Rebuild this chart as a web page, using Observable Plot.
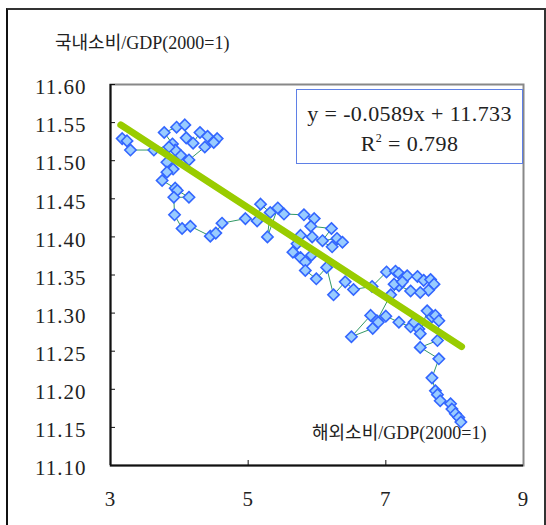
<!DOCTYPE html>
<html>
<head>
<meta charset="utf-8">
<script src="https://cdn.jsdelivr.net/npm/d3@7"></script>
<script src="https://cdn.jsdelivr.net/npm/@observablehq/plot@0.6"></script>
<style>
  body { margin: 0; background: #fff; }
  #wrap { position: relative; width: 546px; height: 525px; overflow: hidden;
          font-family: "Liberation Serif", "Noto Sans CJK KR", serif; color: #222; }
  #outer { position: absolute; left: 6px; top: 8px; width: 536px; height: 540px;
           border-left: 2px solid #111; border-top: 2px solid #333; border-right: 2px solid #333; }
  .lbl { position: absolute; white-space: nowrap; }
  #chart { position: absolute; left: 0; top: 0; }
  #chart svg text { font-family: "Liberation Serif", "Noto Sans CJK KR", serif !important; letter-spacing: 1px; fill: #222; }
  #eq { position: absolute; left: 296px; top: 89px; width: 227px; height: 75px; box-sizing: border-box;
        border: 1px solid #5f80e6; background: #fff; }
  #eq div { position: absolute; left: 0; width: 100%; text-align: center; font-size: 22px; line-height: 24px; letter-spacing: 0.4px; }
</style>
</head>
<body>
<div id="wrap">
  <div id="outer"></div>
  <div class="lbl" id="ytitle" style="left:55px; top:33px; font-size:18px; line-height:20px;"></div>
  <div class="lbl" id="xtitle" style="left:312px; top:423px; font-size:18px; line-height:20px;"></div>
  <div id="chart"></div>
  <div id="eq"><div id="eq1" style="top:12px;"></div><div id="eq2" style="top:42px;"></div></div>
</div>
<script>
// ---- Data (foreign consumption / GDP  vs  domestic consumption / GDP) ----
const foreignX = [
  3.17, 3.24, 3.29, 3.63, 3.90, 3.78, 3.96, 4.08, 4.10, 4.20, 4.30, 4.41, 4.55, 4.50, 4.37, 4.14, 4.02,
  3.94, 3.85, 3.82, 3.91, 3.82, 3.75, 3.94, 3.97, 4.14, 3.92, 3.93, 4.04, 4.16, 4.45, 4.53, 4.62, 4.96,
  5.13, 5.18, 5.32, 5.28, 5.43, 5.52, 5.81, 5.96, 5.91, 6.21, 6.08, 6.29, 6.37, 6.22, 5.93, 5.76, 5.71,
  5.65, 5.76, 5.92, 5.83, 5.83, 5.99, 6.14, 6.24, 6.41, 6.53, 6.80, 7.01,
  7.14, 7.19, 7.26, 7.31, 7.46, 7.55, 7.65, 7.70, 7.62, 7.50, 7.36, 7.19, 7.12, 7.24, 7.07,
  6.87, 6.78, 6.50, 6.81, 6.89, 7.00,
  7.19, 7.36, 7.41, 7.48, 7.50, 7.60, 7.67, 7.72, 7.77, 7.75, 7.50, 7.77, 7.67, 7.72, 7.75, 7.79,
  7.94, 7.96, 8.01, 8.06, 8.09
];
const domesticY = [
  11.529, 11.526, 11.514, 11.514, 11.522, 11.537, 11.544, 11.547, 11.530, 11.523, 11.537, 11.532, 11.529, 11.524, 11.518, 11.501, 11.507,
  11.514, 11.518, 11.498, 11.489, 11.485, 11.474, 11.464, 11.461, 11.452, 11.452, 11.429, 11.411, 11.414, 11.401, 11.405, 11.418, 11.424,
  11.421, 11.443, 11.432, 11.400, 11.438, 11.430, 11.429, 11.424, 11.414, 11.411, 11.395, 11.398, 11.393, 11.387, 11.400, 11.402, 11.391,
  11.380, 11.373, 11.376, 11.367, 11.356, 11.345, 11.360, 11.324, 11.341, 11.331, 11.335, 11.354,
  11.355, 11.352, 11.346, 11.349, 11.348, 11.343, 11.344, 11.338, 11.330, 11.327, 11.329, 11.336, 11.338, 11.341, 11.324,
  11.290, 11.297, 11.269, 11.280, 11.288, 11.296,
  11.288, 11.282, 11.288, 11.279, 11.273, 11.303, 11.295, 11.297, 11.290, 11.264, 11.255, 11.240, 11.215, 11.198, 11.193, 11.185,
  11.181, 11.174, 11.168, 11.163, 11.157
];
// Fitted trend line end points
const trendX = [3.15, 8.10];
const trendY = [11.547, 11.256];
// Ticks and labels
const yTicks = [11.10, 11.15, 11.20, 11.25, 11.30, 11.35, 11.40, 11.45, 11.50, 11.55, 11.60];
const xTicks = [3, 5, 7, 9];
const yTitle = "국내소비/GDP(2000=1)";
const xTitle = "해외소비/GDP(2000=1)";
const eqLine1 = "y = -0.0589x + 11.733";
const r2Value = "0.798";

document.getElementById("ytitle").textContent = yTitle;
document.getElementById("xtitle").textContent = xTitle;
document.getElementById("eq1").textContent = eqLine1;
document.getElementById("eq2").innerHTML = "R<sup style='font-size:12px;vertical-align:9px;line-height:0'>2</sup> = " + r2Value;

const pts = foreignX.map((x, i) => ({x, y: domesticY[i]}));
const trend = trendX.map((x, i) => ({x, y: trendY[i]}));

const chart = Plot.plot({
  width: 546, height: 525,
  marginLeft: 110, marginRight: 23, marginTop: 84, marginBottom: 60,
  x: {domain: [3, 9]},
  y: {domain: [11.1, 11.6]},
  style: {background: "transparent", overflow: "visible", color: "#222"},
  marks: [
    Plot.frame({stroke: "#888", strokeWidth: 2}),
    Plot.axisY({ticks: yTicks, tickSize: 0, tickPadding: 24, tickFormat: d3.format(".2f"), fontSize: 21, dy: 3, label: null}),
    Plot.axisY({ticks: yTicks, tickSize: 5, dx: 5, tickFormat: () => "", label: null, stroke: "#111"}),
    Plot.axisX({ticks: xTicks, tickSize: 0, tickPadding: 26, tickFormat: d3.format("d"), fontSize: 21, label: null}),
    Plot.axisX({ticks: [5, 7], tickSize: 5, dy: -5, tickFormat: () => "", label: null, stroke: "#111"}),
    Plot.ruleX([3], {stroke: "#111", strokeWidth: 2}),
    Plot.ruleY([11.1], {stroke: "#111", strokeWidth: 2}),
    Plot.line(pts, {x: "x", y: "y", stroke: "#339966", strokeWidth: 1}),
    Plot.dot(pts, {x: "x", y: "y", symbol: "diamond2", r: 5.1, fill: "#99ccff", stroke: "#3366ff", strokeWidth: 1.6}),
    Plot.line(trend, {x: "x", y: "y", stroke: "#99cc00", strokeWidth: 7, strokeLinecap: "round"})
  ]
});
document.getElementById("chart").appendChild(chart);
</script>
</body>
</html>
